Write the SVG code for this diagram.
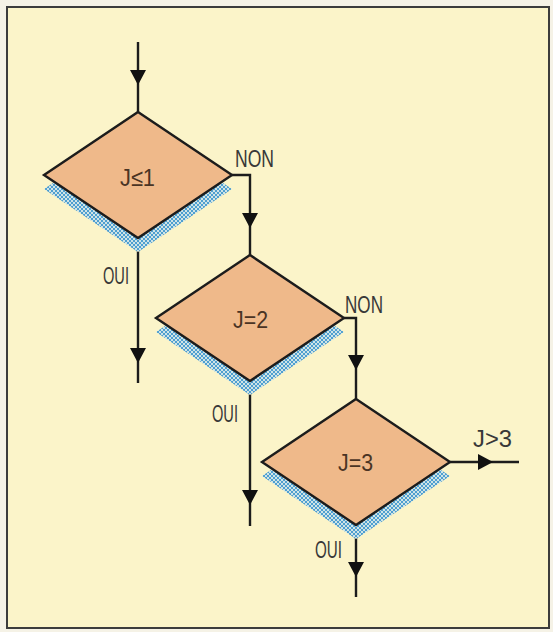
<svg xmlns="http://www.w3.org/2000/svg" xmlns:xlink="http://www.w3.org/1999/xlink" width="553" height="632" viewBox="0 0 553 632">
  <style>
    .frame { fill: #fbf4c9; stroke: #3c3c3c; stroke-width: 2; }
    .decision { fill: #efb98a; stroke: #1c1c1c; stroke-width: 2.4; stroke-linejoin: miter; }
    .shadow { fill: url(#hatch); stroke: none; }
    .flow { fill: none; stroke: #1c1c1c; stroke-width: 2.4; stroke-linejoin: miter; }
    .head { fill: #111; }
    text { font-family: "Liberation Sans", Arial, sans-serif; font-size: 24px; fill: #383838; }
    .cond { fill: #4a3424; }
  </style>
  <defs>
    <!-- fine blue cross-hatching for the drop shadows -->
    <pattern id="hatch" width="4" height="4" patternUnits="userSpaceOnUse">
      <rect width="4" height="4" fill="#cfe4e6"/>
      <path d="M0,0 L4,4 M4,0 L0,4" stroke="#4f9fd0" stroke-width="1"/>
    </pattern>
    <!-- downward arrowhead centred on the origin -->
    <path id="arrow" d="M-8,-7 L8,-7 L0,8 Z"/>
    <!-- decision diamond centred on the origin -->
    <path id="diamond" d="M0,-63 L94,0 L0,63 L-94,0 Z"/>
  </defs>

  <rect width="553" height="632" fill="#f5f2e6"/>
  <rect class="frame" x="7" y="7" width="542" height="621"/>

  <!-- connectors -->
  <g id="connectors">
    <path class="flow" d="M138,42 V112"/>
    <path class="flow" d="M232,175 H250 V255"/>
    <path class="flow" d="M138,238 V383"/>
    <path class="flow" d="M344,318 H356 V399"/>
    <path class="flow" d="M250,381 V526"/>
    <path class="flow" d="M450,462 H519"/>
    <path class="flow" d="M356,525 V597"/>
    <use href="#arrow" class="head" transform="translate(138,77)"/>
    <use href="#arrow" class="head" transform="translate(250,220)"/>
    <use href="#arrow" class="head" transform="translate(138,355)"/>
    <use href="#arrow" class="head" transform="translate(356,362)"/>
    <use href="#arrow" class="head" transform="translate(250,497)"/>
    <use href="#arrow" class="head" transform="translate(485,462) rotate(-90)"/>
    <use href="#arrow" class="head" transform="translate(356,569)"/>
  </g>

  <!-- decision 1 -->
  <g id="decision-j-le-1">
    <use href="#diamond" class="shadow" transform="translate(138,189)"/>
    <use href="#diamond" class="decision" transform="translate(138,175)"/>
    <text class="cond" x="120" y="186" textLength="35" lengthAdjust="spacingAndGlyphs">J≤1</text>
  </g>

  <!-- decision 2 -->
  <g id="decision-j-eq-2">
    <use href="#diamond" class="shadow" transform="translate(250,332)"/>
    <use href="#diamond" class="decision" transform="translate(250,318)"/>
    <text class="cond" x="233" y="328" textLength="35" lengthAdjust="spacingAndGlyphs">J=2</text>
  </g>

  <!-- decision 3 -->
  <g id="decision-j-eq-3">
    <use href="#diamond" class="shadow" transform="translate(356,476)"/>
    <use href="#diamond" class="decision" transform="translate(356,462)"/>
    <text class="cond" x="338" y="471" textLength="35" lengthAdjust="spacingAndGlyphs">J=3</text>
  </g>

  <!-- branch labels -->
  <g id="labels">
    <text x="235" y="167" textLength="39" lengthAdjust="spacingAndGlyphs">NON</text>
    <text x="103" y="284" textLength="26" lengthAdjust="spacingAndGlyphs">OUI</text>
    <text x="345" y="313" textLength="38" lengthAdjust="spacingAndGlyphs">NON</text>
    <text x="212" y="422" textLength="26" lengthAdjust="spacingAndGlyphs">OUI</text>
    <text x="315" y="558" textLength="27" lengthAdjust="spacingAndGlyphs">OUI</text>
    <text x="473" y="447" textLength="39" lengthAdjust="spacingAndGlyphs">J&gt;3</text>
  </g>
</svg>
